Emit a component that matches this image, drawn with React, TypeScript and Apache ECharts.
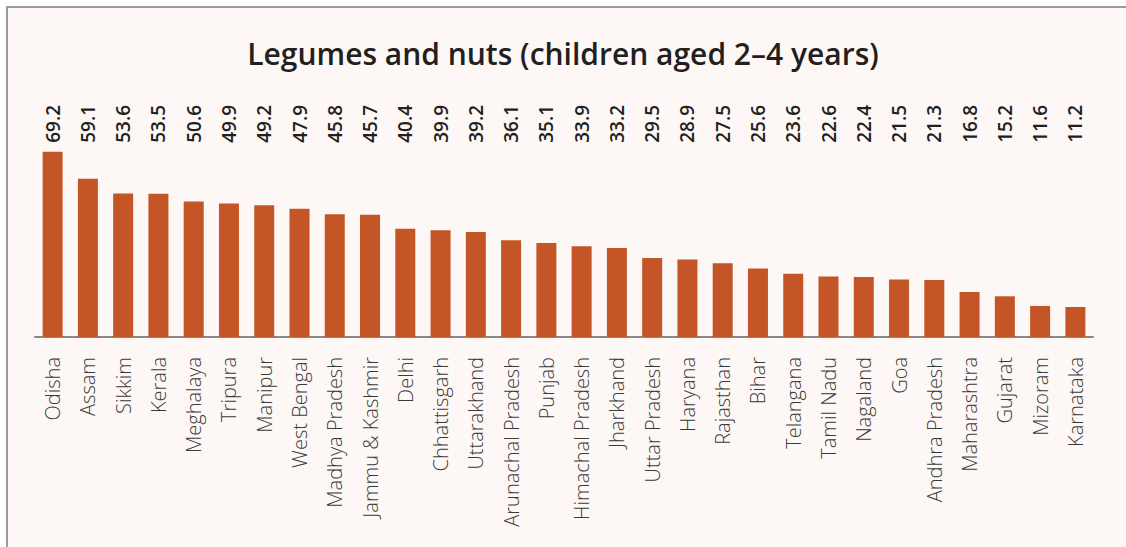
import React, { useEffect, useRef } from "react";
import * as echarts from "echarts";

const TITLE = "Legumes and nuts (children aged 2–4 years)";
const states = [
  "Odisha", "Assam", "Sikkim", "Kerala", "Meghalaya", "Tripura", "Manipur", "West Bengal",
  "Madhya Pradesh", "Jammu & Kashmir", "Delhi", "Chhattisgarh", "Uttarakhand", "Arunachal Pradesh",
  "Punjab", "Himachal Pradesh", "Jharkhand", "Uttar Pradesh", "Haryana", "Rajasthan", "Bihar",
  "Telangana", "Tamil Nadu", "Nagaland", "Goa", "Andhra Pradesh", "Maharashtra", "Gujarat",
  "Mizoram", "Karnataka",
];
const values = [
  69.2, 59.1, 53.6, 53.5, 50.6, 49.9, 49.2, 47.9, 45.8, 45.7, 40.4, 39.9, 39.2, 36.1, 35.1,
  33.9, 33.2, 29.5, 28.9, 27.5, 25.6, 23.6, 22.6, 22.4, 21.5, 21.3, 16.8, 15.2, 11.6, 11.2,
];
const Y_MAX = 90;
const labelRow = values.map(() => Y_MAX);

export default function App() {
  const ref = useRef<HTMLDivElement>(null);
  useEffect(() => {
    const chart = echarts.init(ref.current!, null, { renderer: "svg" });
    chart.setOption({
      animation: false,
      backgroundColor: "#ffffff",
      graphic: [
        {
          type: "rect",
          z: -10,
          shape: { x: 7, y: 7, width: 1140, height: 560 },
          style: { fill: "#fdf8f5", stroke: "#9a9a9a", lineWidth: 2 },
        },
      ],
      title: {
        text: TITLE,
        left: "center",
        top: 33,
        textStyle: { fontFamily: "Open Sans", fontSize: 30, fontWeight: 600, color: "#231f20" },
      },
      grid: { left: 35, right: 33, top: 96, bottom: 210 },
      xAxis: {
        type: "category",
        data: states,
        axisLine: { lineStyle: { color: "#888", width: 2 } },
        axisTick: { show: false },
        axisLabel: {
          rotate: 90,
          interval: 0,
          margin: 20,
          fontFamily: "Open Sans",
          fontWeight: 300,
          fontSize: 20,
          color: "#3a3a3a",
        },
      },
      yAxis: {
        type: "value",
        min: 0,
        max: Y_MAX,
        show: false,
        splitLine: { show: false },
      },
      series: [
        {
          type: "bar",
          data: values,
          barWidth: 20,
          itemStyle: { color: "#c45527" },
          z: 3,
        },
        {
          type: "bar",
          data: labelRow,
          barWidth: 20,
          barGap: "-100%",
          itemStyle: { color: "rgba(0,0,0,0)" },
          silent: true,
          z: 1,
          label: {
            show: true,
            position: "insideTop",
            distance: 9,
            rotate: 90,
            align: "right",
            verticalAlign: "middle",
            fontFamily: "Open Sans",
            fontWeight: 600,
            fontSize: 19,
            color: "#231f20",
            formatter: (p: any) => values[p.dataIndex].toFixed(1),
          },
        },
      ],
    });
    return () => chart.dispose();
  }, []);
  return (
    <div
      ref={ref}
      style={{ position: "absolute", left: 0, top: 0, width: 1126, height: 547 }}
    />
  );
}
